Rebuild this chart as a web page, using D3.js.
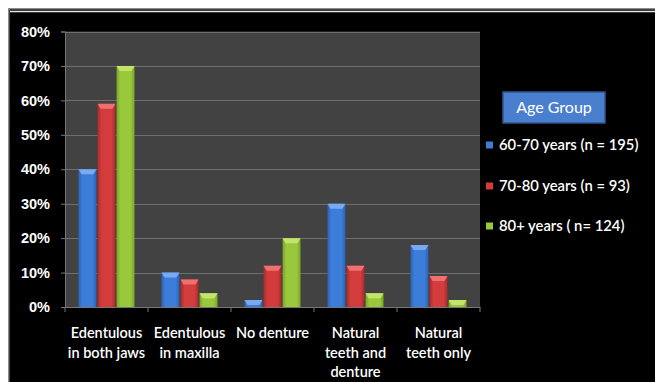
<!DOCTYPE html>
<html><head><meta charset="utf-8">
<script src="https://cdn.jsdelivr.net/npm/d3@7"></script>
<style>
html,body{margin:0;padding:0;background:#fff;}
svg{display:block;font-family:Lato,"Open Sans",sans-serif;}
</style></head>
<body><svg id="c" width="655" height="382"></svg>
<script>
const categories = [["Edentulous","in both jaws"],["Edentulous","in maxilla"],["No denture"],["Natural","teeth and","denture"],["Natural","teeth only"]];
const seriesNames = ["60-70 years (n = 195)","70-80 years (n = 93)","80+ years ( n= 124)"];
const s6070 = [40,10,2,30,18];
const s7080 = [59,8,12,12,9];
const s80p  = [70,4,20,4,2];
const yTicks = [0,10,20,30,40,50,60,70,80];
const legendTitle = "Age Group";

const series = [s6070, s7080, s80p];
const colors = [
  {base:"#3d7dda", light:"#79aaf0", dark:"#2c62b6"},
  {base:"#d23c3c", light:"#ee7070", dark:"#aa2a2a"},
  {base:"#9ac83c", light:"#c2e46a", dark:"#7aa626"}
];

const svg = d3.select("#c");
// frame
svg.append("rect").attr("x",8).attr("y",8).attr("width",647).attr("height",374).attr("fill","#8a8a8a");
svg.append("rect").attr("x",9.5).attr("y",9.5).attr("width",646).attr("height",373).attr("fill","#000");
svg.append("line").attr("x1",10).attr("x2",655).attr("y1",11.5).attr("y2",11.5).attr("stroke","#e8e8e8").attr("stroke-width",1.5);

const defs = svg.append("defs");
colors.forEach((c,i)=>{
  const g = defs.append("linearGradient").attr("id","g"+i).attr("x1","0").attr("x2","1").attr("y1","0").attr("y2","0");
  g.append("stop").attr("offset","0").attr("stop-color",c.dark);
  g.append("stop").attr("offset","0.22").attr("stop-color",c.base);
  g.append("stop").attr("offset","0.78").attr("stop-color",c.base);
  g.append("stop").attr("offset","1").attr("stop-color",c.dark);
});

const pL=65, pR=480, pT=31.5, pB=307;
const x = d3.scaleBand().domain(d3.range(categories.length)).range([pL,pR]).paddingInner(0).paddingOuter(0);
const y = d3.scaleLinear().domain([0,80]).range([pB,pT]);
const groupW = 56;
const xs = d3.scaleBand().domain(d3.range(3)).range([0,groupW]).paddingInner(0.06);

svg.append("rect").attr("x",pL).attr("y",pT).attr("width",pR-pL).attr("height",pB-pT).attr("fill","#424242");

// gridlines
svg.append("g").selectAll("line").data(yTicks.filter(d=>d>0)).join("line")
  .attr("x1",pL).attr("x2",pR).attr("y1",d=>Math.round(y(d))+0.5).attr("y2",d=>Math.round(y(d))+0.5)
  .attr("stroke","#6e6e6e").attr("stroke-width",1.2);

// bars
series.forEach((vals,si)=>{
  const g = svg.append("g");
  vals.forEach((v,ci)=>{
    const bx = x(ci) + (x.bandwidth()-groupW)/2 + xs(si);
    const bw = xs.bandwidth();
    const by = y(v);
    const bh = pB - by;
    g.append("rect").attr("x",bx).attr("y",by).attr("width",bw).attr("height",bh).attr("fill",`url(#g${si})`);
    const bev = Math.min(5, bh);
    g.append("path").attr("d",`M${bx},${by}L${bx+bw},${by}L${bx+bw-3},${by+bev}L${bx+3},${by+bev}Z`).attr("fill",colors[si].light);
  });
});

// axes
const yAxis = d3.axisLeft(y).tickValues(yTicks).tickFormat(d=>d+"%").tickSize(4).tickPadding(11);
const ya = svg.append("g").attr("transform",`translate(${pL},0)`).call(yAxis);
ya.select(".domain").attr("stroke","#777");
ya.selectAll(".tick line").attr("stroke","#777");
ya.selectAll("text").attr("fill","#fff").attr("font-size","14.5px").attr("font-weight","bold");

const xAxis = d3.axisBottom(x).tickFormat("").tickSize(0);
const xa = svg.append("g").attr("transform",`translate(0,${pB})`).call(xAxis);
xa.select(".domain").attr("stroke","#777");
xa.selectAll(".tick").remove();
svg.append("g").selectAll("line").data(d3.range(categories.length+1)).join("line")
  .attr("x1",i=>pL+i*x.step()).attr("x2",i=>pL+i*x.step()).attr("y1",pB).attr("y2",pB+5).attr("stroke","#777");

// x labels
categories.forEach((lines,ci)=>{
  const t = svg.append("text").attr("x",x(ci)+x.bandwidth()/2).attr("y",338).attr("text-anchor","middle")
    .attr("fill","#fff").attr("font-size","14.5px").attr("font-weight","600");
  lines.forEach((l,li)=>t.append("tspan").attr("x",x(ci)+x.bandwidth()/2).attr("dy",li===0?0:19.5).text(l));
});

// legend
svg.append("rect").attr("x",503).attr("y",92).attr("width",102).attr("height",31).attr("fill","#4a7fcf").attr("stroke","#2d558f").attr("stroke-width",1.5);
svg.append("text").attr("x",554).attr("y",113).attr("text-anchor","middle").attr("fill","#fff").attr("font-size","16px").text(legendTitle);
const ly = [145,186,226];
seriesNames.forEach((n,i)=>{
  svg.append("rect").attr("x",486).attr("y",ly[i]-3.5).attr("width",7).attr("height",7).attr("fill",colors[i].base);
  svg.append("text").attr("x",499).attr("y",ly[i]+5).attr("fill","#fff").attr("font-size","14.8px").attr("font-weight","600").text(n);
});
</script></body></html>
